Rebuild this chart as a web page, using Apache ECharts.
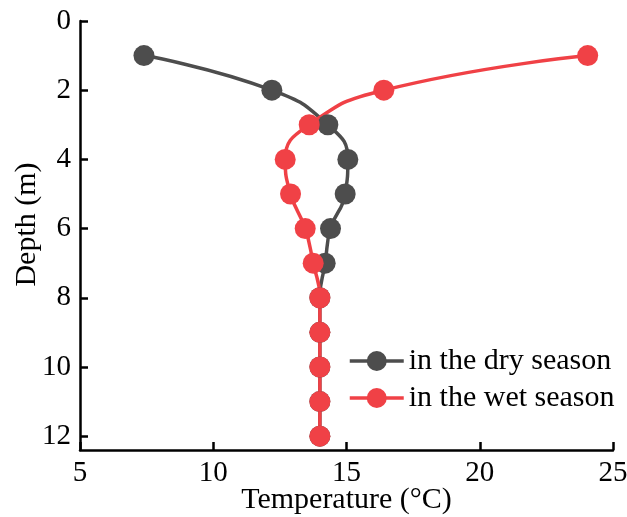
<!DOCTYPE html>
<html>
<head>
<meta charset="utf-8">
<script src="https://cdn.jsdelivr.net/npm/echarts@6/dist/echarts.min.js"></script>
<style>
html,body{margin:0;padding:0;background:#fff;}
#c{width:627px;height:517px;}
</style>
</head>
<body>
<div id="c"></div>
<script>
const depths = [1, 2, 3, 4, 5, 6, 7, 8, 9, 10, 11, 12];
const dryTemp = [7.4, 12.2, 14.3, 15.05, 14.95, 14.4, 14.2, 14.0, 14.0, 14.0, 14.0, 14.0];
const wetTemp = [24.05, 16.4, 13.6, 12.7, 12.9, 13.45, 13.75, 14.0, 14.0, 14.0, 14.0, 14.0];
const seriesNames = ['in the dry season', 'in the wet season'];
const xTicks = [5, 10, 15, 20, 25];
const yTicks = [0, 2, 4, 6, 8, 10, 12];

const FONT = '"Liberation Serif", "Times New Roman", serif';
const chart = echarts.init(document.getElementById('c'), null, {renderer: 'canvas'});
const pair = (xs, ys) => xs.map((v, i) => [v, ys[i]]);
const axisCommon = {
  axisLine: {show: true, onZero: false, lineStyle: {color: '#000', width: 2.5}},
  axisTick: {show: true, inside: true, length: 8, lineStyle: {color: '#000', width: 2.5}},
  splitLine: {show: false},
  nameMoveOverlap: false,
  axisLabel: {color: '#000', fontFamily: FONT, fontSize: 29},
  nameTextStyle: {color: '#000', fontFamily: FONT, fontSize: 30}
};
chart.setOption({
  animation: false,
  grid: {left: 80, right: 14, top: 21, bottom: 67, containLabel: false, outerBoundsMode: 'none'},
  xAxis: Object.assign({}, axisCommon, {
    type: 'value', position: 'bottom', min: xTicks[0], max: xTicks[xTicks.length - 1], interval: 5,
    name: 'Temperature (°C)', nameLocation: 'middle', nameGap: 35,
    axisLabel: Object.assign({}, axisCommon.axisLabel, {margin: 9})
  }),
  yAxis: Object.assign({}, axisCommon, {
    type: 'value', position: 'left', inverse: true, min: yTicks[0], max: 12.4, interval: 2,
    name: 'Depth (m)', nameLocation: 'middle', nameGap: 38,
    nameTextStyle: Object.assign({}, axisCommon.nameTextStyle, {padding: [0, 0, 0, 22]}),
    axisLabel: Object.assign({}, axisCommon.axisLabel, {margin: 9, showMaxLabel: false,
      formatter: v => (yTicks.indexOf(v) >= 0 ? String(v) : '')})
  }),
  legend: {
    orient: 'vertical', left: 343, top: 341, itemWidth: 54, itemHeight: 25, itemGap: 7,
    lineStyle: {width: 3.5},
    textStyle: {color: '#000', fontFamily: FONT, fontSize: 30, padding: [0, 0, 0, 0]},
    data: seriesNames
  },
  series: [
    {name: seriesNames[0], type: 'line', smooth: 0.5, data: pair(dryTemp, depths),
     symbol: 'circle', symbolSize: 21,
     lineStyle: {color: '#4d4d4d', width: 3.5}, itemStyle: {color: '#4d4d4d'}},
    {name: seriesNames[1], type: 'line', smooth: 0.5, data: pair(wetTemp, depths),
     symbol: 'circle', symbolSize: 21,
     lineStyle: {color: '#f04146', width: 3.5}, itemStyle: {color: '#f04146'}}
  ]
});
</script>
</body>
</html>
